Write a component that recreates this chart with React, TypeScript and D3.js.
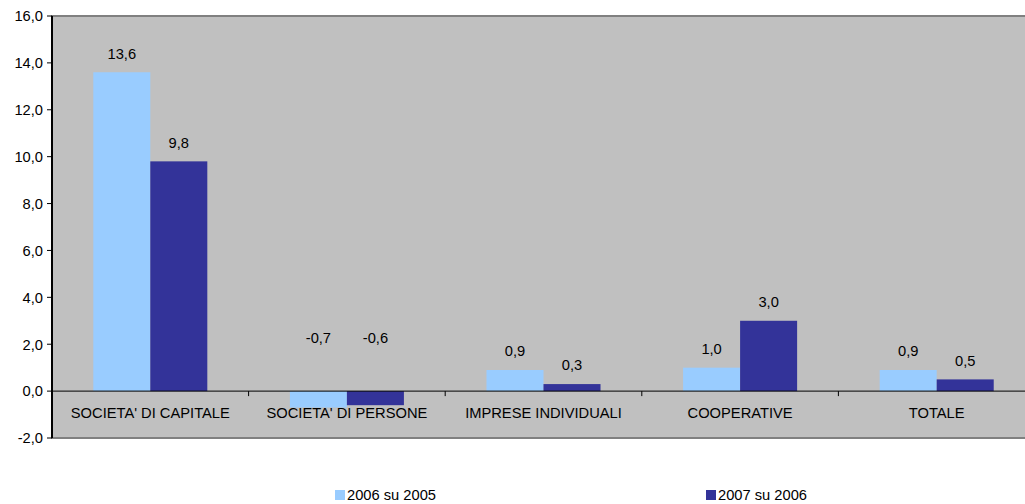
import React, { useEffect, useRef } from 'react';
import * as d3 from 'd3';

const categories = ["SOCIETA' DI CAPITALE", "SOCIETA' DI PERSONE", 'IMPRESE INDIVIDUALI', 'COOPERATIVE', 'TOTALE'];
const seriesNames = ['2006 su 2005', '2007 su 2006'];
const values2006 = [13.6, -0.7, 0.9, 1.0, 0.9];
const values2007 = [9.8, -0.6, 0.3, 3.0, 0.5];
const yTicks = [-2, 0, 2, 4, 6, 8, 10, 12, 14, 16];
const colors = ['#99CCFF', '#333399'];

const fmt = (v: number) => d3.format('.1f')(v).replace('.', ',').replace('−', '-');

const App: React.FC = () => {
  const ref = useRef<SVGSVGElement | null>(null);

  useEffect(() => {
    if (!ref.current) return;
    const width = 1025;
    const height = 504;
    const plot = { left: 52, top: 16, right: 1035, bottom: 438 };

    const svg = d3.select(ref.current);
    svg.selectAll('*').remove();
    svg.attr('width', width).attr('height', height);

    const font = 'Liberation Sans, Arial, sans-serif';
    const fs = '14.7px';

    const x = d3.scaleBand<string>().domain(categories).range([plot.left, plot.right]);
    const y = d3.scaleLinear().domain([-2, 16]).range([plot.bottom, plot.top]);
    const barW = x.bandwidth() * 0.29;

    // plot background
    svg.append('rect')
      .attr('x', plot.left).attr('y', plot.top)
      .attr('width', plot.right - plot.left).attr('height', plot.bottom - plot.top)
      .attr('fill', '#C0C0C0')
      .attr('stroke', '#808080').attr('stroke-width', 2);

    const series = [values2006, values2007];
    series.forEach((vals, si) => {
      svg.append('g').selectAll('rect')
        .data(vals)
        .enter().append('rect')
        .attr('x', (_, i) => (x(categories[i]) ?? 0) + x.bandwidth() / 2 - barW + si * barW)
        .attr('y', d => y(Math.max(d, 0)))
        .attr('width', barW)
        .attr('height', d => Math.abs(y(d) - y(0)))
        .attr('fill', colors[si]);

      // value labels (negatives sit above the zero line, like the original)
      svg.append('g').selectAll('text')
        .data(vals)
        .enter().append('text')
        .attr('x', (_, i) => (x(categories[i]) ?? 0) + x.bandwidth() / 2 - barW / 2 + si * barW)
        .attr('y', d => (d >= 0 ? y(d) - 19 : y(0) - 53) + 5.3)
        .attr('text-anchor', 'middle')
        .style('font-family', font).style('font-size', fs).attr('fill', '#000')
        .text(d => fmt(d));
    });

    // zero line
    svg.append('line')
      .attr('x1', plot.left).attr('x2', plot.right)
      .attr('y1', y(0)).attr('y2', y(0))
      .attr('stroke', '#000').attr('stroke-width', 1);

    // category ticks on zero line
    categories.slice(1).forEach(c => {
      const xx = x(c) ?? 0;
      svg.append('line')
        .attr('x1', xx).attr('x2', xx)
        .attr('y1', y(0)).attr('y2', y(0) + 5)
        .attr('stroke', '#000');
    });

    // category labels
    svg.append('g').selectAll('text')
      .data(categories)
      .enter().append('text')
      .attr('x', d => (x(d) ?? 0) + x.bandwidth() / 2)
      .attr('y', y(0) + 27)
      .attr('text-anchor', 'middle')
      .style('font-family', font).style('font-size', fs).attr('fill', '#000')
      .text(d => d);

    // y axis
    svg.append('line')
      .attr('x1', plot.left).attr('x2', plot.left)
      .attr('y1', plot.top).attr('y2', plot.bottom)
      .attr('stroke', '#000').attr('stroke-width', 2);

    const yAxis = svg.append('g');
    yTicks.forEach(t => {
      yAxis.append('line')
        .attr('x1', plot.left - 5).attr('x2', plot.left)
        .attr('y1', y(t)).attr('y2', y(t))
        .attr('stroke', '#000');
      yAxis.append('text')
        .attr('x', plot.left - 9).attr('y', y(t) + 5.3)
        .attr('text-anchor', 'end')
        .style('font-family', font).style('font-size', fs).attr('fill', '#000')
        .text(fmt(t));
    });

    // legend
    const legendX = [335, 706];
    seriesNames.forEach((name, i) => {
      svg.append('rect')
        .attr('x', legendX[i]).attr('y', 490)
        .attr('width', 10).attr('height', 10)
        .attr('fill', colors[i]);
      svg.append('text')
        .attr('x', legendX[i] + 12).attr('y', 500)
        .style('font-family', font).style('font-size', fs).attr('fill', '#000')
        .text(name);
    });
  }, []);

  return (
    <div style={{ position: 'absolute', left: 0, top: 0, width: 1025, height: 504, overflow: 'hidden', background: '#fff' }}>
      <svg ref={ref} />
    </div>
  );
};

export default App;
